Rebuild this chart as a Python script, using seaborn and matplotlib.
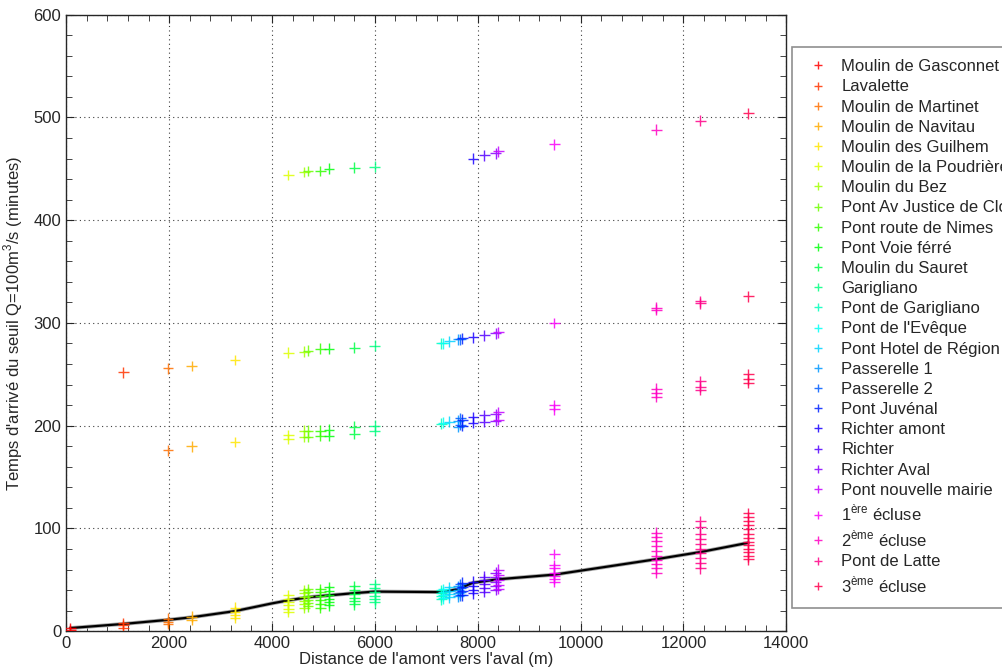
import numpy as np
import pandas as pd
import matplotlib
matplotlib.use("Agg")
import matplotlib.pyplot as plt
from matplotlib.ticker import MultipleLocator
import seaborn as sns

# stations (amont -> aval)
stations = [
    "Moulin de Gasconnet", "Lavalette", "Moulin de Martinet", "Moulin de Navitau",
    "Moulin des Guilhem", "Moulin de la Poudrière", "Moulin du Bez",
    "Pont Av Justice de Clos", "Pont route de Nimes", "Pont Voie férré",
    "Moulin du Sauret", "Garigliano", "Pont de Garigliano", "Pont de l'Evêque",
    "Pont Hotel de Région", "Passerelle 1", "Passerelle 2", "Pont Juvénal",
    "Richter amont", "Richter", "Richter Aval", "Pont nouvelle mairie",
    r"1$^{\rm ère}$ écluse", r"2$^{\rm ème}$ écluse", "Pont de Latte",
    r"3$^{\rm ème}$ écluse",
]

distance = [80, 1110, 1980, 2440, 3280, 4320, 4630, 4700, 4940, 5110, 5600, 6000,
            7290, 7330, 7450, 7620, 7660, 7700, 7910, 8130, 8350, 8400,
            9490, 11470, 12330, 13260]

# arrival times (minutes) for each station, all scenarios
arrival = [
    [1, 3],
    [3, 6, 8, 252],
    [7, 9, 12, 176, 256],
    [11, 14, 180, 258],
    [13, 16, 19, 23, 184, 264],
    [19, 22, 25, 28, 31, 35, 187, 191, 271, 444],
    [23, 26, 29, 33, 37, 40, 189, 195, 272, 447],
    [24, 27, 30, 34, 38, 41, 189, 195, 273, 448],
    [23, 26, 30, 34, 38, 41, 190, 195, 275, 448],
    [25, 28, 31, 35, 39, 43, 190, 196, 275, 450],
    [26, 29, 32, 36, 40, 44, 192, 199, 276, 451],
    [28, 31, 34, 38, 42, 46, 195, 200, 278, 452],
    [31, 34, 37, 40, 202, 280],
    [32, 35, 38, 41, 203, 280],
    [33, 36, 39, 43, 204, 282],
    [34, 37, 40, 44, 199, 205, 284],
    [35, 38, 42, 46, 201, 207, 284],
    [35, 39, 43, 47, 200, 206, 285],
    [37, 40, 44, 48, 203, 208, 286, 460],
    [38, 42, 46, 50, 53, 204, 210, 288, 463],
    [40, 44, 48, 53, 57, 205, 211, 290, 465],
    [41, 45, 50, 55, 60, 206, 213, 291, 467],
    [48, 51, 54, 57, 61, 64, 75, 216, 220, 300, 474],
    [57, 61, 65, 69, 73, 78, 83, 88, 92, 96, 228, 232, 236, 313, 315, 488],
    [61, 66, 71, 76, 80, 85, 90, 95, 101, 107, 235, 238, 243, 319, 321, 497],
    [70, 73, 77, 80, 84, 87, 91, 95, 99, 103, 107, 111, 115, 242, 245, 250, 326, 504],
]

# reference curve
ref_x = [80, 1110, 1980, 2440, 3280, 4000, 4320, 4700, 5600, 6000, 7330, 7620,
         7900, 8400, 9490, 11470, 12330, 13260]
ref_y = [3, 7, 11, 13.5, 19.5, 27, 30, 33, 37, 38.5, 38, 41, 47, 50.5, 55, 70, 77, 86]

rows = []
for name, d, times in zip(stations, distance, arrival):
    for t in times:
        rows.append((name, d, t))
df = pd.DataFrame(rows, columns=["station", "distance", "temps"])
ref = pd.DataFrame({"distance": ref_x, "temps": ref_y})

cols = plt.cm.hsv(np.arange(len(stations)) / len(stations))
palette = dict(zip(stations, cols))

sns.set_style("ticks")
plt.rcParams["font.family"] = ["Liberation Sans", "DejaVu Sans"]
plt.rcParams["mathtext.fontset"] = "custom"
plt.rcParams["mathtext.rm"] = "Liberation Sans"

fig = plt.figure(figsize=(10.03, 6.70), dpi=100)
ax = fig.add_axes([0.066, 0.058, 0.718, 0.92])

sns.lineplot(data=ref, x="distance", y="temps", ax=ax, color="0.65", lw=2.8,
             legend=False, zorder=2)
sns.lineplot(data=ref, x="distance", y="temps", ax=ax, color="black", lw=1.6,
             legend=False, zorder=3)
sns.scatterplot(data=df, x="distance", y="temps", hue="station", hue_order=stations,
                palette=palette, marker="+", s=60, linewidth=1.0, alpha=0.85,
                ax=ax, zorder=4)

ax.set_xlim(0, 14000)
ax.set_ylim(0, 600)
ax.xaxis.set_major_locator(MultipleLocator(2000))
ax.yaxis.set_major_locator(MultipleLocator(100))
ax.xaxis.set_minor_locator(MultipleLocator(400))
ax.yaxis.set_minor_locator(MultipleLocator(20))
ax.tick_params(which="both", direction="in", top=True, right=True, labelsize=12)
ax.tick_params(which="major", length=6)
ax.tick_params(which="minor", length=4)
ax.grid(True, which="major", linestyle=(0, (1, 3)), color="0.25", lw=0.8)
for s in ax.spines.values():
    s.set_linewidth(1.0)

ax.set_xlabel("Distance de l'amont vers l'aval (m)", fontsize=12, labelpad=1)
ax.set_ylabel(r"Temps d'arrivé du seuil Q=100m$^3$/s (minutes)", fontsize=12, labelpad=6)

leg = ax.legend(loc="upper left", bbox_to_anchor=(1.008, 0.948), borderaxespad=0,
                fontsize=12, frameon=True, fancybox=False, edgecolor="0.45",
                handlelength=1.6, handletextpad=0.6, labelspacing=0.31,
                borderpad=0.75, markerscale=0.8)
leg.get_frame().set_linewidth(1.2)

fig.savefig("out.png", dpi=100)
